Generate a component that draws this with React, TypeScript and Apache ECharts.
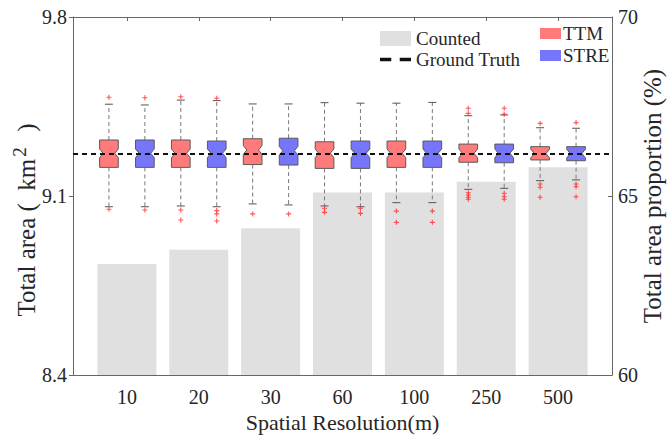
import React, { useEffect, useRef } from "react";
import * as echarts from "echarts";

const categories = ["10", "20", "30", "60", "100", "250", "500"];
const countedPct = [63.1, 63.5, 64.1, 65.1, 65.1, 65.4, 65.8];
const groundTruth = 9.264;

// [lower whisker, Q1, median, Q3, upper whisker]
const ttmBoxes = [
  [9.058, 9.212, 9.267, 9.319, 9.459],
  [9.061, 9.212, 9.267, 9.319, 9.475],
  [9.069, 9.223, 9.28, 9.324, 9.46],
  [9.061, 9.208, 9.267, 9.312, 9.465],
  [9.074, 9.212, 9.267, 9.315, 9.463],
  [9.126, 9.232, 9.267, 9.303, 9.414],
  [9.16, 9.241, 9.266, 9.293, 9.367],
];
const streBoxes = [
  [9.058, 9.212, 9.267, 9.319, 9.456],
  [9.058, 9.212, 9.267, 9.315, 9.473],
  [9.065, 9.221, 9.277, 9.326, 9.46],
  [9.058, 9.208, 9.267, 9.315, 9.463],
  [9.074, 9.212, 9.267, 9.315, 9.466],
  [9.13, 9.23, 9.267, 9.303, 9.417],
  [9.163, 9.238, 9.266, 9.293, 9.365],
];
const ttmOutliers = [
  [9.486, 9.048],
  [9.488, 9.045, 9.006],
  [9.03],
  [9.052, 9.036],
  [9.041, 8.997],
  [9.443, 9.423, 9.113, 9.104, 9.095, 9.087],
  [9.384, 9.147, 9.134, 9.095],
];
const streOutliers = [
  [9.484, 9.045],
  [9.482, 9.043, 9.03, 9.002],
  [9.03],
  [9.052, 9.032],
  [9.041, 8.997],
  [9.443, 9.42, 9.111, 9.097, 9.087],
  [9.387, 9.147, 9.136, 9.097],
];
const leftTicks = [8.4, 9.1, 9.8];
const rightTicks = [60, 65, 70];

const FONT = "Liberation Serif";
const TXT = "#262626";
const TTM_COLOR = "#ff7b7b";
const STRE_COLOR = "#7676fa";
const PAIR_OFFSET = 0.25;
const BOX_W = 0.26;
const NOTCH = 0.017;
const catPos = categories.map((_, i) => i + 1);

function makeBoxSeries(name: string, boxes: number[][], offset: number, color: string) {
  return {
    type: "custom",
    name,
    xAxisIndex: 0,
    yAxisIndex: 0,
    z: 3,
    itemStyle: { color, borderColor: "#555" },
    encode: { x: 0, y: [1, 2, 3, 4, 5] },
    data: boxes.map((b, i) => [catPos[i], ...b]),
    renderItem: (params: any, api: any) => {
      const x = api.value(0) + offset;
      const lo = api.value(1), q1 = api.value(2), med = api.value(3), q3 = api.value(4), hi = api.value(5);
      const pLo = api.coord([x, lo]);
      const pQ1 = api.coord([x, q1]);
      const pMed = api.coord([x, med]);
      const pQ3 = api.coord([x, q3]);
      const pHi = api.coord([x, hi]);
      const n = Math.min(NOTCH, med - q1, q3 - med);
      const pNu = api.coord([x, med + n]);
      const pNd = api.coord([x, med - n]);
      const cx = pMed[0];
      const hw = api.size([BOX_W, 0])[0] / 2;
      const wi = hw * 0.62;
      const capW = 4;
      const whiskerStyle = { stroke: "#7a7a7a", lineWidth: 1, lineDash: [4, 3] };
      const capStyle = { stroke: "#555", lineWidth: 1 };
      return {
        type: "group",
        children: [
          { type: "line", shape: { x1: cx, y1: pQ3[1], x2: cx, y2: pHi[1] }, style: whiskerStyle },
          { type: "line", shape: { x1: cx, y1: pQ1[1], x2: cx, y2: pLo[1] }, style: whiskerStyle },
          { type: "line", shape: { x1: cx - capW, y1: pHi[1], x2: cx + capW, y2: pHi[1] }, style: capStyle },
          { type: "line", shape: { x1: cx - capW, y1: pLo[1], x2: cx + capW, y2: pLo[1] }, style: capStyle },
          {
            type: "polygon",
            shape: {
              points: [
                [cx - hw, pQ3[1]],
                [cx + hw, pQ3[1]],
                [cx + hw, pNu[1]],
                [cx + wi, pMed[1]],
                [cx + hw, pNd[1]],
                [cx + hw, pQ1[1]],
                [cx - hw, pQ1[1]],
                [cx - hw, pNd[1]],
                [cx - wi, pMed[1]],
                [cx - hw, pNu[1]],
              ],
            },
            style: { fill: color, stroke: "#5a5a5a", lineWidth: 1 },
          },
        ],
      };
    },
  };
}

function outlierData(list: number[][], offset: number) {
  const out: number[][] = [];
  list.forEach((vals, i) => vals.forEach((v) => out.push([catPos[i] + offset, v])));
  return out;
}

const PLUS = "path://M0,3.9h10v2.2h-10z M3.9,0h2.2v10h-2.2z";
const DASHES = "path://M0,0h8v2.6h-8z M14,0h8v2.6h-8z";

export default function App() {
  const ref = useRef<HTMLDivElement>(null);
  useEffect(() => {
    document.body.style.margin = "0";
    const chart = echarts.init(ref.current!, null, { renderer: "svg" });
    const xCommon = {
      type: "value",
      min: 0.25,
      max: 7.75,
      splitLine: { show: false },
      axisLine: { show: true, lineStyle: { color: "#666", width: 1 } },
    };
    chart.setOption({
      animation: false,
      backgroundColor: "#fff",
      textStyle: { fontFamily: FONT, color: TXT },
      grid: { left: 73, top: 17, right: 55, bottom: 61, containLabel: false, outerBoundsMode: "none" },
      graphic: [
        {
          type: "text",
          x: 26,
          y: 220,
          rotation: Math.PI / 2,
          style: {
            text: "Total area (  km{sup|2}  )",
            fontFamily: FONT,
            fontSize: 25,
            fill: TXT,
            align: "center",
            verticalAlign: "middle",
            rich: {
              sup: { fontFamily: FONT, fontSize: 19, fill: TXT, padding: [0, 3, 13, 2] },
            },
          },
        },
      ],
      legend: [
        {
          orient: "vertical",
          left: 375,
          top: 24,
          itemWidth: 31,
          itemHeight: 15,
          itemGap: 2,
          symbolKeepAspect: true,
          textStyle: { fontFamily: FONT, fontSize: 19, color: TXT, lineHeight: 19 },
          data: [
            { name: "Counted", icon: "rect" },
            { name: "Ground Truth", icon: DASHES },
          ],
        },
        {
          orient: "vertical",
          left: 535,
          top: 19,
          itemWidth: 21,
          itemHeight: 11,
          itemGap: 3,
          textStyle: { fontFamily: FONT, fontSize: 19, color: TXT, lineHeight: 19, padding: [0, 0, 0, -3] },
          data: [
            { name: "TTM", icon: "rect" },
            { name: "STRE", icon: "rect" },
          ],
        },
      ],
      xAxis: [
        {
          ...xCommon,
          position: "bottom",
          name: "Spatial Resolution(m)",
          nameLocation: "middle",
          nameGap: 31,
          nameTextStyle: { fontFamily: FONT, fontSize: 22, color: TXT },
          axisTick: { show: true, inside: true, length: 4, customValues: catPos, lineStyle: { color: "#666" } },
          axisLabel: {
            show: true,
            customValues: catPos,
            margin: 12,
            fontFamily: FONT,
            fontSize: 20,
            color: TXT,
            formatter: (v: number) => categories[Math.round(v) - 1] ?? "",
          },
        },
        {
          ...xCommon,
          position: "top",
          axisTick: { show: true, inside: true, length: 4, customValues: catPos, lineStyle: { color: "#666" } },
          axisLabel: { show: false },
        },
      ],
      yAxis: [
        {
          type: "value",
          min: 8.4,
          max: 9.8,
          interval: 0.7,
          position: "left",
          splitLine: { show: false },
          axisLine: { show: true, lineStyle: { color: "#666" } },
          axisTick: { show: true, length: 4, lineStyle: { color: "#666" } },
          axisLabel: {
            fontFamily: FONT,
            fontSize: 20,
            color: TXT,
            margin: 6,
            customValues: leftTicks,
            formatter: (v: number) => v.toFixed(1),
          },
        },
        {
          type: "value",
          min: 60,
          max: 70,
          interval: 5,
          position: "right",
          splitLine: { show: false },
          axisLine: { show: true, lineStyle: { color: "#666" } },
          axisTick: { show: true, inside: true, length: 4, lineStyle: { color: "#666" } },
          axisLabel: { fontFamily: FONT, fontSize: 20, color: TXT, margin: 6, customValues: rightTicks },
          name: "Total area proportion (%)",
          nameLocation: "middle",
          nameRotate: 90,
          nameGap: 28,
          nameMoveOverlap: false,
          nameTextStyle: { fontFamily: FONT, fontSize: 25, color: TXT },
        },
      ],
      series: [
        {
          type: "bar",
          name: "Counted",
          xAxisIndex: 0,
          yAxisIndex: 1,
          barWidth: 59,
          z: 1,
          itemStyle: { color: "#e0e0e0" },
          data: countedPct.map((v, i) => [catPos[i], v]),
        },
        makeBoxSeries("TTM", ttmBoxes, -PAIR_OFFSET, TTM_COLOR),
        makeBoxSeries("STRE", streBoxes, PAIR_OFFSET, STRE_COLOR),
        {
          type: "scatter",
          name: "TTM outliers",
          xAxisIndex: 0,
          yAxisIndex: 0,
          symbol: PLUS,
          symbolSize: 5,
          z: 4,
          itemStyle: { color: "#ff2a2a" },
          data: outlierData(ttmOutliers, -PAIR_OFFSET),
        },
        {
          type: "scatter",
          name: "STRE outliers",
          xAxisIndex: 0,
          yAxisIndex: 0,
          symbol: PLUS,
          symbolSize: 5,
          z: 4,
          itemStyle: { color: "#ff2a2a" },
          data: outlierData(streOutliers, PAIR_OFFSET),
        },
        {
          type: "line",
          name: "Ground Truth",
          xAxisIndex: 0,
          yAxisIndex: 0,
          symbol: "none",
          z: 6,
          lineStyle: { color: "#111", width: 2, type: [5, 4] },
          itemStyle: { color: "#111" },
          data: [
            [0.25, groundTruth],
            [7.75, groundTruth],
          ],
        },
      ],
    });
    return () => chart.dispose();
  }, []);
  return <div ref={ref} style={{ width: 667, height: 436 }} />;
}
